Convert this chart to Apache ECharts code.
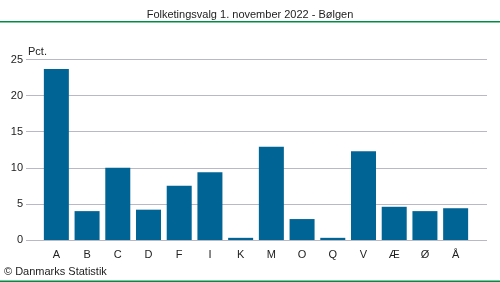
<!DOCTYPE html>
<html><head><meta charset="utf-8">
<script src="https://cdn.jsdelivr.net/npm/echarts@6/dist/echarts.min.js"></script>
<style>html,body{margin:0;padding:0;background:#fff}#c{width:500px;height:282px}</style>
</head><body><div id="c"></div>
<script>
const title = "Folketingsvalg 1. november 2022 - Bølgen";
const categories = ["A","B","C","D","F","I","K","M","O","Q","V","Æ","Ø","Å"];
const values = [23.7,4.0,10.0,4.2,7.5,9.4,0.3,12.9,2.9,0.3,12.3,4.6,4.0,4.4];
const yTicks = [0,5,10,15,20,25];
const unitLabel = "Pct.";
const source = "© Danmarks Statistik";

const font = "Arial, 'Liberation Sans', sans-serif";
const chart = echarts.init(document.getElementById('c'), null, {renderer:'canvas'});
chart.setOption({
  animation:false,
  backgroundColor:'#fff',
  title:[
    {text:title, left:'center', top:9, padding:0, textStyle:{fontFamily:font, fontSize:11, fontWeight:'normal', color:'#222'}},
    {text:unitLabel, left:28, top:46, padding:0, textStyle:{fontFamily:font, fontSize:11, fontWeight:'normal', color:'#222'}},
    {text:source, left:4, top:266, padding:0, textStyle:{fontFamily:font, fontSize:11, fontWeight:'normal', color:'#222'}}
  ],
  graphic:[
    {type:'rect', shape:{x:0,y:21,width:500,height:1.5}, style:{fill:'#008c45'}},
    {type:'rect', shape:{x:0,y:280.5,width:500,height:1.5}, style:{fill:'#008c45'}}
  ],
  grid:[
    {left:26, right:13, top:59.5, bottom:42, containLabel:false},
    {left:41, right:29, top:59.5, bottom:42, containLabel:false}
  ],
  xAxis:[
    {gridIndex:0, type:'value', min:0, max:1, show:false},
    {gridIndex:1, type:'category', data:categories, axisLine:{show:false}, axisTick:{show:false},
     axisLabel:{fontFamily:font, fontSize:11, color:'#222', margin:9}}
  ],
  yAxis:[
    {gridIndex:0, type:'value', min:yTicks[0], max:yTicks[yTicks.length-1], interval:5,
     axisLine:{show:false}, axisTick:{show:false},
     axisLabel:{fontFamily:font, fontSize:11, color:'#222', margin:3},
     splitLine:{lineStyle:{color:'#b8b8c8', width:1}}},
    {gridIndex:1, type:'value', min:yTicks[0], max:yTicks[yTicks.length-1], interval:5, show:false, splitLine:{show:false}}
  ],
  series:[
    {type:'bar', xAxisIndex:1, yAxisIndex:1, data:values, barWidth:25, itemStyle:{color:'#006495'}}
  ]
});
</script></body></html>
